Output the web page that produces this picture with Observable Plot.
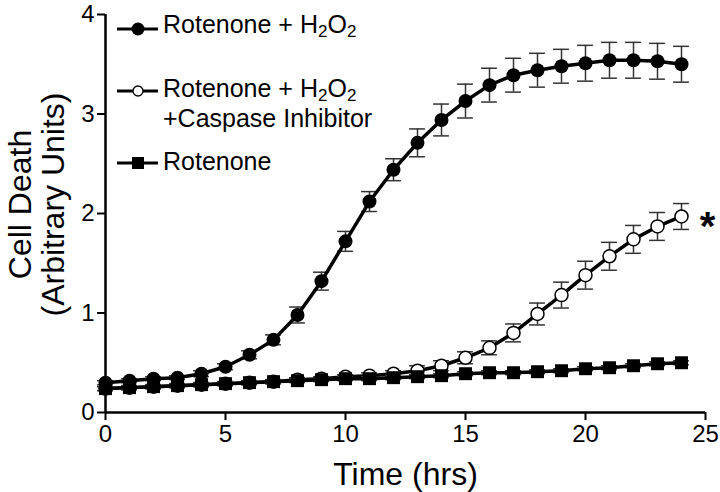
<!DOCTYPE html>
<html>
<head>
<meta charset="utf-8">
<script src="https://cdn.jsdelivr.net/npm/d3@7"></script>
<script src="https://cdn.jsdelivr.net/npm/@observablehq/plot@0.6"></script>
<style>
  html, body { margin: 0; padding: 0; background: white; }
  #wrap { position: relative; width: 720px; height: 492px; font-family: "Liberation Sans", Arial, Helvetica, sans-serif; color: black; }
  .lg { position: absolute; font-size: 25px; white-space: nowrap; }
  .lg sub { font-size: 0.68em; vertical-align: baseline; position: relative; top: 0.22em; }
  .mk { position: absolute; }
</style>
</head>
<body>
<div id="wrap"></div>
<script>
// ---- data ----
const hours = [0,1,2,3,4,5,6,7,8,9,10,11,12,13,14,15,16,17,18,19,20,21,22,23,24];

const rotH2O2 = [0.30,0.32,0.34,0.35,0.39,0.46,0.58,0.73,0.98,1.32,1.72,2.12,2.44,2.71,2.94,3.13,3.29,3.39,3.44,3.48,3.51,3.54,3.54,3.53,3.50];
const rotH2O2Err = [0.02,0.02,0.02,0.02,0.03,0.03,0.04,0.05,0.08,0.09,0.10,0.10,0.11,0.14,0.16,0.17,0.17,0.17,0.17,0.17,0.18,0.18,0.18,0.18,0.18];

const rotH2O2Casp = [0.24,0.25,0.26,0.27,0.28,0.29,0.30,0.31,0.33,0.34,0.36,0.37,0.39,0.42,0.47,0.55,0.65,0.80,0.99,1.18,1.38,1.57,1.74,1.87,1.97];
const rotH2O2CaspErr = [0.02,0.02,0.02,0.02,0.02,0.02,0.02,0.02,0.02,0.02,0.02,0.03,0.03,0.05,0.05,0.06,0.07,0.09,0.11,0.13,0.14,0.14,0.14,0.14,0.13];

const rot = [0.24,0.25,0.26,0.27,0.28,0.29,0.30,0.31,0.32,0.33,0.34,0.34,0.35,0.36,0.37,0.39,0.40,0.40,0.41,0.42,0.44,0.45,0.47,0.49,0.50];
const rotErr = [0.02,0.02,0.02,0.02,0.02,0.02,0.02,0.02,0.02,0.02,0.02,0.02,0.02,0.02,0.02,0.02,0.02,0.02,0.02,0.02,0.02,0.02,0.02,0.02,0.02];

const xTicks = [0,5,10,15,20,25];
const yTicks = [0,1,2,3,4];
const xLabel = "Time (hrs)";
const yLabel = "Cell Death\n(Arbitrary Units)";
const sigMark = "*";

// ---- tables ----
const mk = (vals, errs) => hours.map((t, i) => ({t, v: vals[i], e: errs[i]}));
const sFilled = mk(rotH2O2, rotH2O2Err);
const sOpen = mk(rotH2O2Casp, rotH2O2CaspErr);
const sSquare = mk(rot, rotErr);

const capHalf = 0.33; // half-width of error-bar caps in hours
const errMarks = (data) => [
  Plot.ruleX(data, {x: "t", y1: d => d.v - d.e, y2: d => d.v + d.e, stroke: "#333", strokeWidth: 1.5}),
  Plot.ruleY(data, {y: d => d.v + d.e, x1: d => d.t - capHalf, x2: d => d.t + capHalf, stroke: "#333", strokeWidth: 1.5}),
  Plot.ruleY(data, {y: d => d.v - d.e, x1: d => d.t - capHalf, x2: d => d.t + capHalf, stroke: "#333", strokeWidth: 1.5})
];

const chart = Plot.plot({
  width: 720,
  height: 492,
  marginLeft: 105,
  marginRight: 15,
  marginTop: 14,
  marginBottom: 80,
  x: {domain: [0, 25]},
  y: {domain: [0, 4]},
  style: {fontFamily: "'Liberation Sans', Arial, Helvetica, sans-serif", color: "black", background: "white", overflow: "visible"},
  marks: [
    Plot.axisX({ticks: xTicks, tickSize: 8, tickPadding: 4, fontSize: 24, strokeWidth: 2, label: null, tickFormat: d => String(d)}),
    Plot.axisY({ticks: yTicks, tickSize: 8, tickPadding: 3, fontSize: 24, strokeWidth: 2, label: null, tickFormat: d => String(d)}),
    Plot.ruleY([0], {stroke: "black", strokeWidth: 2.5}),
    Plot.ruleX([0], {stroke: "black", strokeWidth: 2.5}),
    // open circles (Caspase inhibitor)
    ...errMarks(sOpen),
    Plot.line(sOpen, {x: "t", y: "v", stroke: "black", strokeWidth: 3.5}),
    Plot.dot(sOpen, {x: "t", y: "v", r: 6.5, fill: "white", stroke: "black", strokeWidth: 1.5}),
    // squares (Rotenone)
    ...errMarks(sSquare),
    Plot.line(sSquare, {x: "t", y: "v", stroke: "black", strokeWidth: 3.5}),
    Plot.dot(sSquare, {x: "t", y: "v", r: 7.3, symbol: "square", fill: "black"}),
    // filled circles (Rotenone + H2O2)
    ...errMarks(sFilled),
    Plot.line(sFilled, {x: "t", y: "v", stroke: "black", strokeWidth: 3.5}),
    Plot.dot(sFilled, {x: "t", y: "v", r: 7, fill: "black"}),
    // significance asterisk next to last open point
    Plot.text(sOpen.slice(-1), {x: "t", y: "v", text: () => sigMark, dx: 26, dy: 11, fontSize: 40, fontWeight: "bold", fill: "black"}),
    // axis titles
    Plot.text([xLabel], {text: d => d, frameAnchor: "bottom", dy: 72, lineAnchor: "bottom", fontSize: 32, fill: "black"}),
    Plot.text([yLabel], {text: d => d, frameAnchor: "left", textAnchor: "middle", lineAnchor: "middle", dx: -69, dy: -9, rotate: -90, lineHeight: 1.03, fontSize: 32, fill: "black"})
  ]
});

const wrap = document.getElementById("wrap");
wrap.appendChild(chart);

// ---- legend (HTML overlay) ----
const legendRows = [
  {kind: "filled", lines: ["Rotenone + H<sub>2</sub>O<sub>2</sub>"]},
  {kind: "open", lines: ["Rotenone + H<sub>2</sub>O<sub>2</sub>", "+Caspase Inhibitor"]},
  {kind: "square", lines: ["Rotenone"]}
];
const rowTop = [12, 75, 149];
const markerY = [29, 91, 163];
legendRows.forEach((row, i) => {
  const m = document.createElementNS("http://www.w3.org/2000/svg", "svg");
  m.setAttribute("class", "mk");
  m.setAttribute("width", 44);
  m.setAttribute("height", 20);
  m.style.left = "115px";
  m.style.top = (markerY[i] - 10) + "px";
  let inner = '<line x1="2" y1="10" x2="43" y2="10" stroke="black" stroke-width="3"/>';
  if (row.kind === "filled") inner += '<circle cx="23" cy="10" r="6.5" fill="black"/>';
  if (row.kind === "open") inner += '<circle cx="23" cy="10" r="5" fill="white" stroke="black" stroke-width="1.3"/>';
  if (row.kind === "square") inner += '<rect x="17" y="4" width="12" height="12" fill="black"/>';
  m.innerHTML = inner;
  wrap.appendChild(m);
  const t = document.createElement("div");
  t.className = "lg";
  t.style.left = "163px";
  t.style.top = rowTop[i] + "px";
  t.style.lineHeight = row.lines.length > 1 ? "27px" : "25px";
  t.innerHTML = row.lines.join("<br>");
  wrap.appendChild(t);
});
</script>
</body>
</html>
